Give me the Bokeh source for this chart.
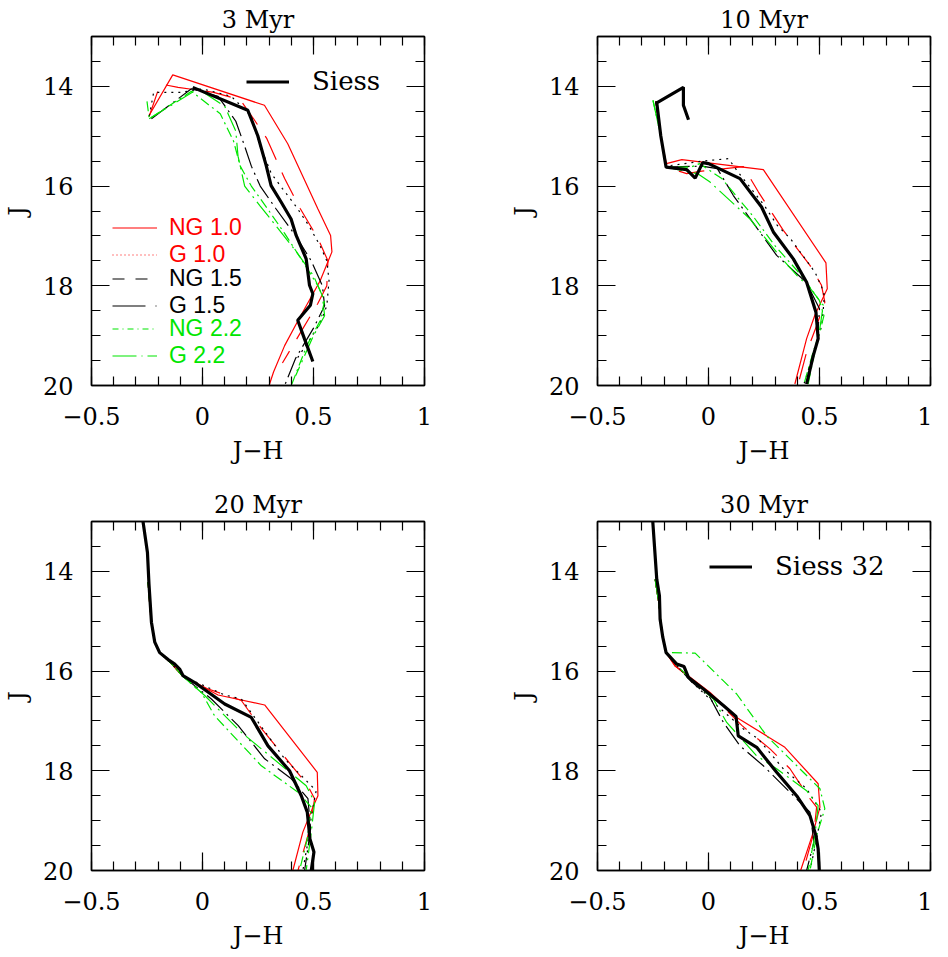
import numpy as np
from bokeh.plotting import figure
from bokeh.models import LinearAxis, Range1d, FixedTicker, Legend, LegendItem
from bokeh.layouts import column, row
from bokeh.core.properties import value
from bokeh.embed import file_html
from bokeh.resources import INLINE

# ---------------- data (J-H, J) ----------------
ages = ["3 Myr", "10 Myr", "20 Myr", "30 Myr"]
models = ["NG 1.0", "G 1.0", "NG 1.5", "G 1.5", "NG 2.2", "G 2.2"]

# 3 Myr
siess_3_jh = [-0.044, 0.204, 0.249, 0.287, 0.309, 0.354, 0.399, 0.422, 0.467, 0.482, 0.497, 0.486, 0.429, 0.459, 0.497]
siess_3_j = [14.02, 14.48, 14.99, 15.59, 15.99, 16.32, 16.66, 16.99, 17.46, 17.99, 18.16, 18.39, 18.69, 19.06, 19.52]
ng10_3_jh = [-0.24, -0.134, 0.279, 0.384, 0.52, 0.577, 0.583, 0.53, 0.43, 0.37, 0.32, 0.30]
ng10_3_j = [14.58, 13.77, 14.38, 15.15, 16.46, 16.99, 17.32, 17.9, 18.70, 19.2, 19.73, 20.0]
g10_3_jh = [-0.24, -0.19, -0.11, 0.05, 0.17, 0.23, 0.29, 0.37, 0.44, 0.52, 0.565, 0.56, 0.52, 0.44, 0.36]
g10_3_j = [14.6, 13.95, 14.02, 14.12, 14.27, 14.65, 15.05, 15.85, 16.45, 17.05, 17.5, 18.0, 18.35, 18.95, 19.55]
ng15_3_jh = [-0.24, -0.22, -0.10, 0.0, 0.13, 0.22, 0.26, 0.31, 0.36, 0.42, 0.48, 0.53, 0.56, 0.57, 0.56, 0.53, 0.48, 0.42]
ng15_3_j = [14.6, 14.12, 14.12, 14.05, 14.2, 14.6, 15.2, 15.75, 16.05, 16.4, 16.8, 17.2, 17.5, 17.9, 18.4, 18.75, 19.1, 19.5]
g15_3_jh = [-0.23, -0.05, 0.07, 0.15, 0.19, 0.22, 0.26, 0.33, 0.42, 0.49, 0.54, 0.55, 0.50, 0.42, 0.37]
g15_3_j = [14.65, 14.05, 14.2, 14.7, 15.2, 15.6, 16.0, 16.45, 17.0, 17.5, 18.0, 18.4, 18.85, 19.45, 20.0]
ng22_3_jh = [-0.25, -0.24, -0.05, 0.08, 0.14, 0.17, 0.22, 0.30, 0.37, 0.45, 0.52, 0.55, 0.53, 0.47, 0.40]
ng22_3_j = [14.3, 14.65, 14.1, 14.55, 15.1, 15.6, 16.0, 16.5, 16.95, 17.5, 18.0, 18.3, 18.7, 19.2, 20.0]
g22_3_jh = [-0.24, -0.02, 0.10, 0.15, 0.16, 0.19, 0.26, 0.34, 0.42, 0.50, 0.54, 0.55, 0.50, 0.45, 0.42]
g22_3_j = [14.65, 14.05, 14.4, 14.9, 15.4, 16.0, 16.4, 16.85, 17.3, 17.8, 18.2, 18.6, 19.0, 19.5, 19.8]

# 10 Myr
siess_10_jh = [-0.090, -0.113, -0.113, -0.233, -0.215, -0.191, -0.098, -0.060, -0.026, 0.0, 0.142, 0.239, 0.292, 0.382, 0.442, 0.484, 0.494, 0.472, 0.442]
siess_10_j = [14.67, 14.38, 14.02, 14.33, 14.99, 15.62, 15.67, 15.84, 15.53, 15.55, 15.85, 16.42, 16.92, 17.46, 17.93, 18.53, 19.06, 19.40, 19.97]
ng10_10_jh = [-0.237, -0.215, -0.19, -0.12, 0.247, 0.529, 0.535, 0.479, 0.442, 0.389]
ng10_10_j = [14.30, 15.0, 15.55, 15.47, 15.67, 17.54, 18.06, 18.59, 19.06, 19.97]
g10_10_jh = [-0.237, -0.215, -0.191, -0.098, -0.030, 0.157, 0.225, 0.337, 0.457, 0.509, 0.524, 0.487, 0.442, 0.404]
g10_10_j = [14.30, 15.0, 15.62, 15.75, 15.70, 15.61, 16.12, 16.89, 17.59, 17.99, 18.33, 18.80, 19.33, 19.97]
ng15_10_jh = [-0.237, -0.215, -0.19, -0.03, 0.09, 0.13, 0.25, 0.31, 0.37, 0.48, 0.52, 0.52, 0.51, 0.47, 0.43]
ng15_10_j = [14.3, 15.0, 15.6, 15.5, 15.45, 15.7, 16.38, 16.79, 17.06, 17.73, 18.13, 18.33, 18.8, 19.4, 19.97]
g15_10_jh = [-0.237, -0.215, -0.19, -0.03, 0.04, 0.112, 0.307, 0.44, 0.50, 0.49, 0.44]
g15_10_j = [14.3, 15.0, 15.62, 15.6, 15.65, 16.19, 17.39, 17.93, 18.46, 19.13, 19.97]
ng22_10_jh = [-0.25, -0.215, -0.19, -0.08, -0.04, 0.06, 0.20, 0.30, 0.42, 0.50, 0.52, 0.50, 0.47, 0.43]
ng22_10_j = [14.28, 15.0, 15.62, 15.62, 15.55, 15.85, 16.6, 17.2, 17.8, 18.3, 18.6, 18.95, 19.35, 19.97]
g22_10_jh = [-0.25, -0.215, -0.19, -0.05, 0.007, 0.187, 0.32, 0.40, 0.46, 0.517, 0.50, 0.487, 0.449]
g22_10_j = [14.28, 15.0, 15.62, 15.75, 15.92, 16.66, 17.4, 17.8, 18.06, 18.39, 18.9, 19.13, 19.97]

# 20 Myr
siess_20_jh = [-0.268, -0.248, -0.241, -0.230, -0.215, -0.193, -0.155, -0.125, -0.103, -0.088, -0.035, 0.10, 0.22, 0.295, 0.392, 0.445, 0.472, 0.484, 0.502, 0.49]
siess_20_j = [13.0, 13.62, 14.26, 15.02, 15.42, 15.63, 15.77, 15.86, 15.96, 16.09, 16.23, 16.66, 16.93, 17.50, 18.00, 18.50, 18.83, 19.37, 19.63, 20.0]
ng10_20_jh = [-0.245, -0.232, -0.215, -0.193, -0.14, -0.09, 0.07, 0.28, 0.517, 0.52, 0.50, 0.452, 0.407]
ng10_20_j = [14.22, 15.0, 15.42, 15.63, 15.85, 16.1, 16.48, 16.68, 18.03, 18.5, 18.7, 19.23, 20.0]
g10_20_jh = [-0.245, -0.232, -0.215, -0.193, -0.14, -0.09, 0.02, 0.175, 0.265, 0.472, 0.505, 0.483, 0.43]
g10_20_j = [14.22, 15.0, 15.42, 15.63, 15.85, 16.1, 16.35, 16.59, 17.15, 18.28, 18.56, 19.17, 20.0]
ng15_20_jh = [-0.245, -0.232, -0.215, -0.193, -0.14, -0.09, 0.10, 0.175, 0.37, 0.512, 0.493, 0.472, 0.452]
ng15_20_j = [14.22, 15.0, 15.42, 15.63, 15.85, 16.1, 16.48, 16.56, 17.76, 18.40, 18.83, 19.5, 20.0]
g15_20_jh = [-0.245, -0.232, -0.215, -0.193, -0.14, -0.09, 0.04, 0.16, 0.28, 0.40, 0.475, 0.487, 0.46]
g15_20_j = [14.22, 15.0, 15.42, 15.63, 15.85, 16.1, 16.56, 17.09, 17.76, 18.16, 18.56, 19.17, 20.0]
ng22_20_jh = [-0.245, -0.232, -0.215, -0.193, -0.14, -0.09, -0.005, 0.055, 0.265, 0.43, 0.49, 0.472, 0.437]
ng22_20_j = [14.22, 15.0, 15.42, 15.63, 15.85, 16.1, 16.43, 16.9, 17.9, 18.43, 18.73, 19.37, 20.0]
g22_20_jh = [-0.245, -0.232, -0.215, -0.193, -0.14, -0.09, 0.01, 0.175, 0.467, 0.505, 0.49, 0.467]
g22_20_j = [14.22, 15.0, 15.42, 15.63, 15.85, 16.1, 16.49, 17.23, 18.3, 18.63, 19.23, 20.0]

# 30 Myr
siess_30_jh = [-0.251, -0.233, -0.221, -0.218, -0.206, -0.191, -0.143, -0.11, -0.09, -0.023, 0.067, 0.124, 0.134, 0.217, 0.307, 0.397, 0.457, 0.484, 0.494, 0.499]
siess_30_j = [13.0, 14.16, 14.49, 14.96, 15.32, 15.63, 15.86, 15.91, 16.13, 16.36, 16.69, 16.91, 17.30, 17.53, 18.03, 18.50, 18.90, 19.30, 19.57, 20.0]
ng10_30_jh = [-0.24, -0.225, -0.215, -0.205, -0.191, -0.15, -0.09, 0.007, 0.127, 0.262, 0.344, 0.494, 0.502, 0.472, 0.415]
ng10_30_j = [14.16, 14.6, 15.0, 15.35, 15.63, 15.9, 16.1, 16.43, 16.93, 17.30, 17.53, 18.26, 18.73, 19.23, 20.0]
g10_30_jh = [-0.24, -0.225, -0.215, -0.205, -0.191, -0.15, -0.08, 0.007, 0.15, 0.195, 0.277, 0.367, 0.457, 0.487, 0.475, 0.427]
g10_30_j = [14.16, 14.6, 15.0, 15.35, 15.63, 15.9, 16.15, 16.46, 17.09, 17.26, 17.56, 17.96, 18.56, 18.73, 19.23, 20.0]
ng15_30_jh = [-0.24, -0.225, -0.215, -0.205, -0.191, -0.14, -0.08, 0.037, 0.157, 0.224, 0.337, 0.442, 0.509, 0.487, 0.457]
ng15_30_j = [14.16, 14.6, 15.0, 15.35, 15.63, 15.9, 16.2, 16.69, 17.16, 17.36, 17.96, 18.36, 18.83, 19.37, 20.0]
g15_30_jh = [-0.24, -0.225, -0.215, -0.205, -0.191, -0.14, -0.08, 0.007, 0.067, 0.142, 0.247, 0.367, 0.457, 0.475, 0.442]
g15_30_j = [14.16, 14.6, 15.0, 15.35, 15.63, 15.9, 16.2, 16.53, 17.03, 17.50, 17.90, 18.43, 18.83, 19.43, 20.0]
ng22_30_jh = [-0.24, -0.225, -0.215, -0.205, -0.191, -0.06, 0.127, 0.262, 0.502, 0.524, 0.487, 0.457]
ng22_30_j = [14.16, 14.6, 15.0, 15.35, 15.63, 15.64, 16.46, 17.30, 18.36, 18.76, 19.30, 20.0]
g22_30_jh = [-0.24, -0.225, -0.215, -0.205, -0.191, -0.14, -0.06, 0.022, 0.082, 0.217, 0.307, 0.442, 0.494, 0.479, 0.449]
g22_30_j = [14.16, 14.6, 15.0, 15.35, 15.63, 15.9, 16.25, 16.56, 17.03, 17.70, 17.96, 18.40, 18.70, 19.30, 20.0]

siess_curves = [(siess_3_jh, siess_3_j), (siess_10_jh, siess_10_j),
                (siess_20_jh, siess_20_j), (siess_30_jh, siess_30_j)]
model_curves = [
    [(ng10_3_jh, ng10_3_j), (g10_3_jh, g10_3_j), (ng15_3_jh, ng15_3_j),
     (g15_3_jh, g15_3_j), (ng22_3_jh, ng22_3_j), (g22_3_jh, g22_3_j)],
    [(ng10_10_jh, ng10_10_j), (g10_10_jh, g10_10_j), (ng15_10_jh, ng15_10_j),
     (g15_10_jh, g15_10_j), (ng22_10_jh, ng22_10_j), (g22_10_jh, g22_10_j)],
    [(ng10_20_jh, ng10_20_j), (g10_20_jh, g10_20_j), (ng15_20_jh, ng15_20_j),
     (g15_20_jh, g15_20_j), (ng22_20_jh, ng22_20_j), (g22_20_jh, g22_20_j)],
    [(ng10_30_jh, ng10_30_j), (g10_30_jh, g10_30_j), (ng15_30_jh, ng15_30_j),
     (g15_30_jh, g15_30_j), (ng22_30_jh, ng22_30_j), (g22_30_jh, g22_30_j)],
]
siess_labels = ["Siess", None, None, "Siess 32"]

x_major = [-0.5, 0.0, 0.5, 1.0]
x_tick_labels = ["\u22120.5", "0", "0.5", "1"]
y_major = [14, 16, 18, 20]
y_tick_labels = ["14", "16", "18", "20"]

# ---------------- styles ----------------
RED = "#ff0000"
GREEN = "#00e600"
model_colors = [RED, RED, "black", "black", GREEN, GREEN]
plot_dash = ["solid", "26 14", "2 5", "22 5 2 5", "10 4 2 4", "20 5 2 5"]
legend_dash = ["solid", "1 3", "12 11", "33 10 1 10", "6 4 1 4", "24 5 1 5"]
SERIF = "DejaVu Serif"
SANS = "Liberation Sans"

x_minor = np.round(np.arange(-0.5, 1.0001, 0.1), 2).tolist()
y_minor = np.round(np.arange(13.0, 20.001, 0.5), 2).tolist()


def style_axis(ax, is_x, labelled, tick_standoff=18, label_standoff=8):
    ax.ticker = FixedTicker(ticks=x_major if is_x else y_major,
                            minor_ticks=x_minor if is_x else y_minor)
    ax.axis_line_color = "black"
    ax.axis_line_width = 1.3
    ax.major_tick_in = 18
    ax.major_tick_out = 0
    ax.minor_tick_in = 9
    ax.minor_tick_out = 0
    ax.major_tick_line_color = "black"
    ax.minor_tick_line_color = "black"
    ax.major_tick_line_width = 1.2
    ax.minor_tick_line_width = 1.2
    if labelled:
        ax.major_label_text_font = SERIF
        ax.major_label_text_font_size = "24px"
        ax.major_label_text_color = "black"
        ax.major_label_standoff = tick_standoff
        ax.axis_label_text_font = SERIF
        ax.axis_label_text_font_size = "24px"
        ax.axis_label_text_font_style = "normal"
        ax.axis_label_text_color = "black"
        ax.axis_label_standoff = label_standoff
        if is_x:
            ax.major_label_overrides = dict(zip(x_major, x_tick_labels))
        else:
            ax.major_label_overrides = dict(zip(y_major, y_tick_labels))
    else:
        ax.major_label_text_font_size = "0px"
        ax.major_label_text_color = None
        ax.major_label_standoff = 0
        ax.axis_label = None


def make_panel(k, right_border, bottom_border, xt_standoff, xl_standoff):
    p = figure(frame_width=333, frame_height=349,
               x_range=Range1d(-0.5, 1.0), y_range=Range1d(20.0, 13.0),
               output_backend="svg", toolbar_location=None,
               min_border_left=89, min_border_right=right_border,
               min_border_top=33, min_border_bottom=bottom_border,
               title=ages[k])
    p.title.align = "center"
    p.title.text_font = SERIF
    p.title.text_font_size = "24px"
    p.title.text_font_style = "normal"
    p.title.text_color = "black"
    p.title.standoff = 6
    p.xgrid.visible = False
    p.ygrid.visible = False
    p.outline_line_color = "black"
    p.outline_line_width = 1.3
    p.background_fill_color = "white"
    p.border_fill_color = "white"

    p.xaxis.axis_label = "J\u2212H"
    p.yaxis.axis_label = "J"
    style_axis(p.xaxis[0], True, True, xt_standoff, xl_standoff)
    style_axis(p.yaxis[0], False, True, 18, 8)
    top = LinearAxis()
    right = LinearAxis()
    style_axis(top, True, False)
    style_axis(right, False, False)
    p.add_layout(top, "above")
    p.add_layout(right, "right")

    for (jh, j), col, dash in zip(model_curves[k], model_colors, plot_dash):
        p.line(jh, j, line_color=col, line_width=1.2, line_dash=dash)
    sx, sy = siess_curves[k]
    siess_r = p.line(sx, sy, line_color="black", line_width=3.2)

    if siess_labels[k]:
        leg = Legend(items=[LegendItem(label=value(siess_labels[k]), renderers=[siess_r])],
                     location=(155 if k == 0 else 112, 289),
                     border_line_color=None, background_fill_alpha=0,
                     padding=0, margin=0, spacing=0,
                     glyph_width=43, glyph_height=25, label_height=25,
                     label_standoff=23, label_text_font=SERIF,
                     label_text_font_size="26px", label_text_color="black",
                     label_text_baseline="middle")
        p.add_layout(leg)

    if k == 0:
        bottoms = [117, 66.5, 16]
        for g in range(3):
            items = []
            for m in (2 * g, 2 * g + 1):
                # legend-only key line: no visible data (NaN), carries the key's style
                d = p.line([np.nan, np.nan], [np.nan, np.nan], line_color=model_colors[m],
                           line_width=1.2, line_dash=legend_dash[m])
                items.append(LegendItem(label=value(models[m]), renderers=[d]))
            leg = Legend(items=items, location=(21, bottoms[g]),
                         border_line_color=None, background_fill_alpha=0,
                         padding=0, margin=0, spacing=0,
                         glyph_width=45, glyph_height=25, label_height=25,
                         label_standoff=12, label_text_font=SANS,
                         label_text_font_size="23px",
                         label_text_color=model_colors[2 * g],
                         label_text_baseline="middle")
            p.add_layout(leg)
    return p


p1 = make_panel(0, 82, 100, 21, 9)
p2 = make_panel(1, 2, 100, 21, 9)
p3 = make_panel(2, 82, 60, 21, 9)
p4 = make_panel(3, 2, 60, 21, 9)

layout = column(row(p1, p2, spacing=0), row(p3, p4, spacing=0), spacing=0)
open("out.html", "w").write(file_html(layout, INLINE))
